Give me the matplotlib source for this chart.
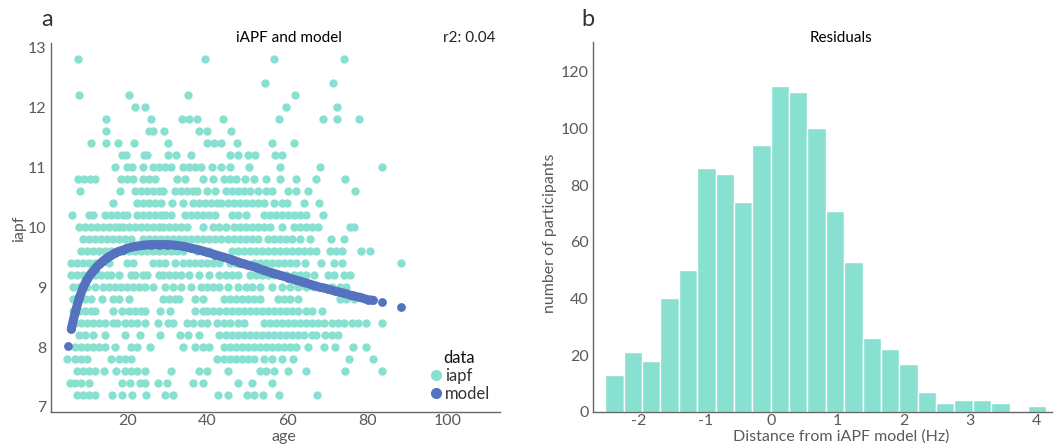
import numpy as np
import matplotlib
matplotlib.use("Agg")
import matplotlib.pyplot as plt
from matplotlib.lines import Line2D

plt.rcParams['font.family'] = ['Lato', 'DejaVu Sans']
plt.rcParams['axes.unicode_minus'] = False

# ---- panel a: observed iapf by age (one list of ages per iapf level) ----
ages_128 = [7.8, 39.3, 56.7, 74.0]
ages_124 = [54.3, 71.2]
ages_122 = [7.9, 20.4, 35.1, 61.8]
ages_120 = [22.0, 24.5, 59.6, 72.3]
ages_118 = [14.7, 25.8, 33.6, 35.5, 37.3, 43.9, 57.8, 68.9, 72.3, 77.8]
ages_116 = [14.7, 25.5, 26.3, 29.2, 38.0, 39.8, 45.9]
ages_114 = [10.9, 14.7, 17.7, 21.7, 30.1, 40.0, 41.7, 43.5, 47.4, 56.1, 61.5]
ages_112 = [18.6, 19.6, 24.2, 25.0, 30.1, 32.2, 36.0, 45.6, 47.5, 50.0, 51.8,
            56.8, 58.7]
ages_110 = [17.0, 20.0, 21.2, 24.0, 26.5, 28.0, 29.5, 31.0, 33.8, 35.3, 36.8,
            38.3, 41.1, 43.5, 45.6, 50.4, 58.0, 68.0, 83.6]
ages_108 = [7.7, 9.2, 10.6, 11.9, 18.5, 20.0, 21.5, 24.0, 25.5, 27.0, 32.5,
            34.5, 39.0, 41.4, 44.0, 45.5, 47.0, 49.3, 51.5, 54.7, 58.0, 62.2,
            67.0, 74.2]
ages_106 = [8.2, 18.2, 22.0, 23.5, 25.0, 26.5, 28.0, 29.0, 32.0, 33.5, 35.0,
            36.5, 37.5, 40.0, 42.0, 44.5, 46.0, 47.5, 49.0, 50.5, 52.5, 54.5,
            56.0, 60.0, 62.0, 65.1, 76.9]
ages_104 = [16.4, 22.5, 24.0, 25.5, 27.0, 28.5, 31.1, 34.0, 36.5, 38.0, 39.5,
            41.0, 42.5, 43.5, 45.0, 46.5, 48.0, 49.5, 51.0, 52.5, 54.0, 56.5,
            58.5, 59.8, 64.0, 67.9]
ages_102 = [6.3, 10.5, 11.5, 14.5, 16.0, 17.5, 19.0, 20.0, 22.5, 24.0, 25.5,
            27.0, 28.5, 29.5, 31.0, 34.5, 36.0, 37.5, 39.0, 40.5, 42.0, 46.0,
            47.5, 49.5, 54.0, 55.5, 57.0, 58.5, 60.0, 61.5, 63.0, 64.5, 68.9]
ages_100 = [8.0, 9.5, 11.0, 12.5, 14.0, 15.5, 17.0, 18.0, 19.0, 20.5, 22.0,
            23.5, 25.0, 26.5, 28.0, 29.0, 30.5, 32.0, 33.5, 35.0, 39.0, 41.5,
            43.0, 44.5, 46.5, 48.0, 49.5, 51.0, 52.5, 54.0, 55.5, 58.5, 61.5,
            63.0, 64.5, 66.0, 67.5, 75.5, 76.5]
ages_98 = [9.0, 10.5, 12.0, 13.5, 15.0, 16.5, 18.0, 19.5, 21.0, 24.0, 25.5,
           27.0, 28.5, 30.0, 31.5, 33.0, 34.5, 36.0, 37.5, 39.0, 40.5, 42.0,
           43.5, 45.0, 46.5, 48.0, 49.5, 51.0, 52.5, 55.0, 56.5, 58.0, 59.5,
           61.0, 63.0, 65.5, 70.8, 74.0]
ages_96 = [8.5, 10.0, 11.5, 13.0, 14.5, 16.0, 17.5, 19.0, 20.5, 22.0, 23.5,
           25.0, 26.5, 28.0, 29.5, 31.0, 32.5, 34.0, 37.5, 39.0, 40.5, 46.0,
           47.5, 49.0, 50.5, 52.0, 53.5, 55.0, 56.5, 58.0, 59.5, 61.0, 62.5,
           64.0, 65.5, 67.0, 70.5, 72.0, 73.5, 78.4, 80.5]
ages_94 = [6.0, 7.5, 9.0, 10.5, 12.0, 13.5, 15.5, 20.0, 21.5, 26.5, 28.0,
           29.5, 32.0, 34.0, 35.5, 37.0, 38.5, 40.0, 41.5, 43.0, 45.5, 47.0,
           49.0, 51.5, 53.0, 54.5, 56.0, 57.5, 59.0, 60.5, 62.0, 64.3, 68.3,
           71.5, 73.5, 88.2]
ages_92 = [6.0, 7.5, 9.0, 10.5, 12.0, 13.5, 15.0, 16.0, 18.0, 21.0, 22.0,
           24.0, 25.0, 28.0, 29.0, 30.5, 32.0, 33.5, 35.5, 38.0, 40.5, 43.0,
           44.5, 46.0, 47.5, 50.5, 52.0, 53.5, 55.0, 56.5, 58.0, 59.5, 61.5,
           63.0, 64.5, 66.5, 70.0, 71.5, 74.0, 75.5]
ages_90 = [6.5, 8.0, 10.0, 12.0, 14.0, 15.5, 17.0, 18.5, 20.0, 21.5, 23.0,
           24.5, 26.5, 29.5, 31.5, 33.5, 36.0, 38.5, 40.0, 41.5, 43.0, 45.0,
           47.5, 49.5, 51.0, 53.0, 56.0, 58.5, 60.5, 62.5, 64.5, 66.5, 69.0,
           71.0, 73.0, 74.5]
ages_88 = [6.5, 8.0, 9.5, 11.0, 13.6, 16.5, 17.8, 20.3, 29.0, 30.5, 32.0,
           33.0, 37.0, 39.0, 44.0, 45.5, 47.0, 48.5, 50.0, 51.5, 53.0, 57.5,
           59.0, 60.5, 62.5, 73.0, 74.5, 76.5]
ages_86 = [6.5, 8.0, 9.5, 11.0, 12.0, 16.5, 18.6, 20.5, 22.0, 23.5, 24.5,
           28.2, 30.6, 37.0, 39.0, 40.0, 41.5, 43.0, 44.5, 46.0, 47.5, 49.0,
           50.5, 52.0, 53.5, 55.0, 56.5, 58.0, 59.5, 61.0, 62.5, 64.5, 66.0,
           68.7]
ages_84 = [7.0, 8.5, 10.0, 11.5, 13.0, 14.5, 16.5, 17.5, 19.5, 21.0, 22.5,
           24.5, 27.7, 30.2, 31.5, 35.0, 36.5, 38.5, 40.0, 42.5, 44.0, 45.5,
           47.5, 49.0, 54.0, 55.5, 57.0, 58.5, 60.0, 61.5, 63.0, 64.5, 66.0,
           67.5, 69.0, 71.0, 72.5, 74.0, 76.0, 77.5, 79.5, 83.6]
ages_82 = [8.0, 9.5, 11.5, 14.5, 19.4, 23.2, 28.2, 33.1, 35.2, 38.0, 43.0,
           44.5, 46.0, 47.5, 49.0, 50.5, 52.0, 53.5, 55.0, 56.5, 58.0, 59.5,
           61.0, 62.5, 64.0, 66.0, 67.2, 69.3, 71.0, 72.5]
ages_80 = [7.0, 8.5, 10.0, 11.5, 13.0, 14.5, 16.9, 21.0, 22.5, 25.7, 34.0,
           37.0, 39.0, 40.5, 44.0, 45.5, 47.0, 48.5, 50.0, 51.5, 53.0, 54.5,
           56.0, 57.5, 59.0, 60.5, 62.0, 65.1, 69.0, 71.8, 76.3, 79.5]
ages_78 = [4.9, 7.0, 8.5, 10.0, 16.0, 18.0, 19.5, 21.0, 42.5, 44.0, 45.5,
           47.0, 48.5, 50.0, 51.5, 54.0, 56.0, 58.7, 61.4, 75.2, 81.3]
ages_76 = [7.5, 9.0, 10.5, 12.0, 14.3, 17.2, 19.5, 21.0, 22.5, 24.5, 30.8,
           38.0, 40.0, 45.2, 53.0, 54.5, 56.5, 60.2, 64.5, 74.2, 83.6]
ages_74 = [5.7, 7.0, 8.5, 10.5, 18.6, 20.7, 23.2, 24.4, 27.7, 29.8, 36.5,
           39.0, 47.5, 51.0, 56.2]
ages_72 = [7.5, 9.0, 10.5, 12.0, 16.1, 18.6, 21.1, 24.6, 29.4, 31.5, 42.7,
           45.2, 49.8, 51.5, 53.9, 57.9, 67.4]

iapf_levels = [12.8, 12.4, 12.2, 12.0, 11.8, 11.6, 11.4, 11.2, 11.0, 10.8,
               10.6, 10.4, 10.2, 10.0, 9.8, 9.6, 9.4, 9.2, 9.0, 8.8, 8.6,
               8.4, 8.2, 8.0, 7.8, 7.6, 7.4, 7.2]
iapf_ages = [ages_128, ages_124, ages_122, ages_120, ages_118, ages_116,
             ages_114, ages_112, ages_110, ages_108, ages_106, ages_104,
             ages_102, ages_100, ages_98, ages_96, ages_94, ages_92, ages_90,
             ages_88, ages_86, ages_84, ages_82, ages_80, ages_78, ages_76,
             ages_74, ages_72]

# model prediction
model_age = [5.1, 6, 7, 8, 9, 10, 11, 12, 13, 14, 15, 16, 17, 18, 19, 20, 22,
             24, 26, 28, 30, 32, 34, 36, 38, 40, 42, 44, 46, 48, 50, 52, 54,
             56, 58, 60, 62, 64, 66, 68, 70, 72, 74, 76, 78, 80, 81.3, 83.6,
             88.3]
model_iapf = [8.02, 8.30, 8.58, 8.82, 9.00, 9.13, 9.23, 9.31, 9.38, 9.44,
              9.49, 9.53, 9.57, 9.60, 9.62, 9.65, 9.68, 9.70, 9.71, 9.71,
              9.71, 9.70, 9.68, 9.65, 9.62, 9.58, 9.54, 9.50, 9.46, 9.41,
              9.37, 9.33, 9.28, 9.24, 9.20, 9.16, 9.12, 9.08, 9.04, 9.00,
              8.97, 8.93, 8.90, 8.86, 8.83, 8.79, 8.78, 8.75, 8.67]

# ---- panel b: residual histogram ----
resid_counts = [13, 21, 18, 40, 50, 86, 84, 74, 94, 115, 113, 100, 71, 53,
                26, 22, 17, 7, 3, 4, 4, 3, 0, 2]
resid_min = -2.51
resid_binwidth = 0.2775

teal = '#88e0d0'
blue = '#5572bf'
grey = '#5a5a5a'

fig = plt.figure(figsize=(10.58, 4.45), dpi=100)
ax1 = fig.add_axes([0.048, 0.0748, 0.4246, 0.8279])
ax2 = fig.add_axes([0.5602, 0.0748, 0.4338, 0.8302])

x_obs = np.concatenate([np.array(a) for a in iapf_ages])
y_obs = np.concatenate([np.full(len(a), lv) for a, lv in zip(iapf_ages, iapf_levels)])
ax1.scatter(x_obs, y_obs, s=36, color=teal, linewidths=0, zorder=2)

n_line = model_age.index(81.3) + 1
ax1.plot(model_age[1:n_line], model_iapf[1:n_line], color=blue, lw=6.5,
         solid_capstyle='round', zorder=3)
ax1.scatter(model_age, model_iapf, s=40, color=blue, linewidths=0, zorder=4)

ax1.set_xlim(0.9, 113)
ax1.set_ylim(6.92, 13.07)
ax1.set_xticks([20, 40, 60, 80, 100])
ax1.set_yticks([7, 8, 9, 10, 11, 12, 13])

edges = resid_min + resid_binwidth * np.arange(len(resid_counts) + 1)
centers = (edges[:-1] + edges[1:]) / 2
ax2.hist(centers, bins=edges, weights=resid_counts, color=teal,
         edgecolor='white', linewidth=1.0)
ax2.set_xlim(-2.70, 4.23)
ax2.set_ylim(0, 130.4)
ax2.set_xticks([-2, -1, 0, 1, 2, 3, 4])
ax2.set_yticks([0, 20, 40, 60, 80, 100, 120])

for ax in (ax1, ax2):
    for s in ('top', 'right'):
        ax.spines[s].set_visible(False)
    for s in ('left', 'bottom'):
        ax.spines[s].set_color('#666666')
        ax.spines[s].set_linewidth(1.0)
    ax.tick_params(length=0, labelsize=11.5, labelcolor=grey, pad=3)
    ax.tick_params(axis='x', pad=1.5)

# legend
handles = [Line2D([], [], marker='o', ls='', color=teal, markersize=7),
           Line2D([], [], marker='o', ls='', color=blue, markersize=7)]
leg = ax1.legend(handles, ['iapf', 'model'], title='data', frameon=False,
                 loc='lower right', bbox_to_anchor=(1.0, 0.0),
                 handletextpad=0.0, handlelength=1.0, labelspacing=0.1,
                 fontsize=12, title_fontsize=12, borderaxespad=0.2)
leg.get_title().set_color('#111111')
for t in leg.get_texts():
    t.set_color('#333333')

# titles and labels placed at figure positions
W, H = 1058.0, 445.0
def ft(x, y, s, **kw):
    fig.text(x / W, 1 - y / H, s, ha='center', va='center', **kw)

ft(47, 20, 'a', fontsize=17, color='#333333')
ft(588, 20, 'b', fontsize=17, color='#333333')
ft(289, 38, 'iAPF and model', fontsize=11, color='#000000')
ft(469, 38, 'r2: 0.04', fontsize=11, color='#222222')
ft(841, 38, 'Residuals', fontsize=11, color='#000000')
ft(19, 229, 'iapf', fontsize=11.5, color=grey, rotation=90)
ft(284, 437, 'age', fontsize=11.5, color=grey)
ft(550, 233, 'number of participants', fontsize=11.5, color=grey, rotation=90)
ft(841, 437, 'Distance from iAPF model (Hz)', fontsize=11.5, color=grey)

fig.savefig('out.png', dpi=100)
